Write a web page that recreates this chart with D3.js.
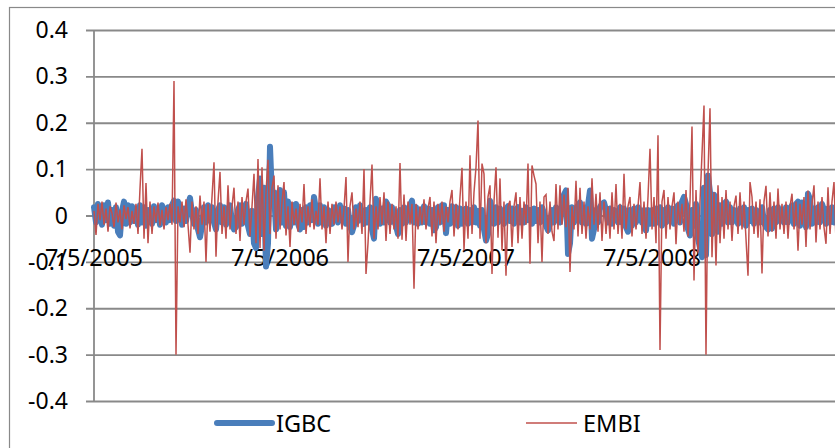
<!DOCTYPE html>
<html lang="en">
  <head>
    <title>IGBC vs EMBI</title>
    <script src="https://d3js.org/d3.v7.min.js"></script>
    <style>
      body { margin: 0; background: #fff; }
      text { font-family: "Noto Sans", "Open Sans", sans-serif; fill: #000; }
    </style>
  </head>
  <body>
    <div id="myChart"></div>
    <script>
// daily returns (one value every ~2 px)
var igbc = [
  0.018,-0.015,0.025,0.005,-0.020,0.022,-0.010,0.028,-0.018,0.012,
  -0.022,0.018,-0.035,-0.043,0.010,0.030,-0.018,0.022,-0.015,0.020,
  -0.012,0.015,-0.020,0.022,-0.015,0.018,-0.022,0.012,0.005,-0.018,
  0.020,-0.010,0.012,-0.020,0.022,0.005,-0.015,0.018,-0.010,0.022,
  0.032,-0.012,0.030,0.010,-0.020,0.015,-0.012,0.022,0.038,0.005,
  -0.018,0.012,-0.030,-0.047,-0.022,0.018,-0.015,0.022,-0.010,0.018,
  -0.015,-0.030,0.012,0.022,-0.015,0.018,-0.020,0.010,0.022,-0.015,
  -0.030,-0.025,0.012,0.022,-0.018,0.015,0.025,-0.022,-0.040,0.010,
  -0.060,-0.070,0.040,0.080,-0.040,0.060,-0.110,-0.060,0.148,0.040,
  0.050,-0.030,0.045,
  0.055,-0.015,0.050,-0.022,0.030,-0.025,0.022,-0.015,0.025,-0.018,
  -0.030,0.012,-0.025,0.018,-0.015,0.022,-0.010,0.040,0.012,-0.018,
  0.022,-0.015,0.018,-0.022,0.012,0.005,-0.018,0.018,0.012,-0.015,
  0.022,-0.010,0.015,-0.018,0.012,-0.022,-0.036,-0.022,0.018,-0.012,
  0.022,0.005,-0.018,0.012,-0.015,0.018,-0.030,-0.050,0.036,0.012,
  -0.018,0.015,-0.015,0.030,0.022,-0.015,0.018,-0.010,-0.022,-0.040,
  0.012,-0.018,0.018,-0.015,0.010,0.022,0.032,-0.015,0.018,-0.018,
  0.012,-0.015,0.020,-0.015,0.015,-0.018,0.012,-0.032,-0.025,0.018,
  -0.015,0.022,0.022,-0.038,0.012,-0.018,0.020,-0.015,0.018,-0.022,
  0.015,-0.018,0.012,
  0.015,-0.018,0.012,-0.015,0.018,-0.015,0.010,-0.022,0.012,-0.030,
  -0.054,-0.040,0.032,0.012,-0.018,0.018,-0.015,0.015,0.005,-0.018,
  0.012,0.020,-0.012,0.015,-0.018,0.012,0.018,-0.015,0.010,-0.015,
  0.018,-0.010,0.012,-0.018,0.015,-0.012,0.012,-0.015,0.018,0.005,
  -0.022,-0.032,-0.018,0.012,-0.015,0.018,0.005,-0.015,0.022,0.045,
  0.054,-0.083,-0.060,0.018,-0.015,0.012,0.022,0.028,-0.015,0.015,
  -0.018,0.022,0.054,-0.050,-0.030,0.012,-0.015,0.018,0.025,0.028,
  0.012,-0.015,0.015,-0.018,0.012,0.005,-0.015,0.018,-0.015,0.015,
  -0.025,-0.035,0.012,-0.022,0.015,-0.015,0.018,0.010,-0.015,0.012,
  -0.032,0.012,-0.018,
  0.012,-0.018,0.015,-0.015,0.018,-0.022,0.012,-0.015,0.018,-0.012,
  0.015,-0.018,0.012,0.022,-0.015,0.030,0.040,0.025,-0.030,-0.043,
  0.012,-0.022,0.025,-0.050,-0.070,-0.090,0.060,-0.085,0.086,0.050,
  -0.040,0.045,0.030,-0.035,0.022,-0.018,0.025,0.030,-0.015,0.018,
  -0.015,0.012,0.005,-0.018,0.015,-0.015,0.018,-0.022,0.012,-0.012,
  0.015,-0.018,0.012,0.005,-0.015,0.018,-0.015,-0.025,-0.030,0.012,
  -0.028,0.015,-0.015,0.018,-0.012,0.012,-0.015,0.018,-0.015,0.015,
  0.022,-0.018,0.025,0.030,-0.022,0.028,0.012,-0.025,0.047,0.035,
  -0.018,0.015,-0.015,0.018,-0.015,0.025,0.012,-0.018,0.015,-0.015,
  0.018,-0.015,0.012
];

var embi = [
  0.010,-0.042,0.025,-0.010,0.030,-0.020,0.015,-0.035,0.020,0.005,
  -0.025,0.028,-0.015,0.012,-0.030,0.022,-0.008,0.018,-0.028,0.010,
  -0.018,0.025,-0.040,0.058,0.144,-0.050,0.070,-0.060,0.030,-0.040,
  0.020,-0.015,0.028,-0.022,0.012,-0.030,0.018,-0.010,0.025,-0.020,
  0.290,-0.300,0.020,-0.015,0.030,-0.025,0.035,-0.020,-0.080,0.030,
  -0.030,0.020,-0.040,0.043,-0.020,0.030,-0.100,0.025,-0.035,0.040,
  0.115,-0.089,0.030,0.094,-0.040,0.020,-0.050,0.065,-0.030,0.020,
  0.060,-0.040,0.030,-0.055,0.040,-0.020,0.030,0.058,-0.045,0.020,
  0.090,-0.060,0.122,-0.070,0.104,-0.076,0.050,0.120,-0.040,0.060,
  0.086,-0.050,0.065,
  -0.030,0.030,0.072,-0.043,0.020,-0.068,0.030,-0.020,0.015,-0.035,
  0.025,-0.015,0.068,-0.040,0.020,-0.025,0.035,-0.030,0.010,-0.020,
  0.080,-0.030,0.020,-0.060,0.030,-0.040,0.025,-0.020,0.030,-0.015,
  0.020,-0.030,0.015,0.083,-0.100,0.020,0.050,-0.030,0.015,-0.025,
  0.030,-0.040,0.100,-0.126,-0.060,0.030,0.110,-0.050,0.020,-0.030,
  0.040,-0.020,0.050,-0.055,0.030,-0.040,0.025,-0.030,0.020,-0.050,
  0.113,-0.052,0.045,-0.055,0.030,-0.020,0.025,-0.158,0.025,-0.030,
  0.020,-0.020,0.035,-0.030,0.015,0.040,-0.045,0.030,-0.060,0.025,
  -0.020,0.030,-0.035,0.020,-0.015,0.030,0.055,-0.045,0.025,-0.030,
  0.040,0.103,-0.075,
  0.030,-0.050,0.130,-0.040,0.050,0.104,0.205,-0.050,0.112,0.090,
  -0.060,0.040,0.065,-0.126,0.030,0.104,-0.048,0.080,-0.075,0.030,
  -0.130,0.020,0.032,-0.068,0.020,0.050,-0.060,0.040,-0.050,0.030,
  -0.020,0.112,-0.104,0.108,0.086,0.068,-0.060,0.030,-0.100,0.040,
  0.045,-0.040,0.030,-0.035,-0.055,0.068,-0.030,0.065,-0.020,0.045,
  -0.025,0.060,-0.122,0.020,-0.030,0.075,-0.045,0.060,-0.040,0.030,
  -0.050,0.020,-0.030,0.080,-0.020,0.047,-0.035,0.050,-0.055,0.030,
  -0.040,0.020,-0.050,0.050,-0.030,0.068,-0.040,0.025,-0.050,0.090,
  -0.030,0.020,0.040,-0.045,0.025,-0.030,0.020,0.072,-0.040,0.030,
  -0.050,0.040,0.144,
  -0.030,0.040,-0.060,0.173,-0.290,0.030,0.055,-0.050,0.040,-0.030,
  0.020,0.050,-0.062,0.030,-0.020,0.025,-0.035,0.055,-0.045,0.030,
  0.192,-0.140,0.055,-0.080,0.030,0.133,0.237,-0.300,0.090,0.231,
  -0.090,0.050,-0.108,0.065,-0.060,0.040,-0.050,0.055,-0.030,0.030,
  -0.055,0.020,0.043,-0.040,0.050,-0.030,0.030,-0.050,-0.130,0.072,
  0.040,-0.040,0.030,-0.048,0.035,-0.125,0.030,0.064,-0.045,0.050,
  -0.035,0.030,-0.050,0.058,-0.030,0.025,-0.040,0.030,-0.050,0.020,
  0.047,-0.030,0.030,-0.076,0.025,-0.020,0.040,-0.068,0.054,-0.030,
  0.025,0.065,-0.058,0.030,-0.030,0.040,-0.025,-0.061,0.061,-0.040,
  0.030,0.072,-0.055
];

var tickIdx = [0, 93, 186, 279];
var tickLabels = ["7/5/2005", "7/5/2006", "7/5/2007", "7/5/2008"];
var yTicks = [-0.4, -0.3, -0.2, -0.1, 0, 0.1, 0.2, 0.3, 0.4];
var seriesNames = ["IGBC", "EMBI"];

window.onload = function() {
  var W = 835, H = 448,
      mLeft = 94, mRight = 836, mTop = 30, mBottom = 401,
      gridColor = "#898989",
      blue = "#4a7ebb", red = "#c0504d";

  var svg = d3.select("#myChart").append("svg")
      .attr("width", W).attr("height", H);

  // chart area border (cut off on the right and bottom)
  svg.append("rect")
      .attr("x", 9.5).attr("y", 7.5)
      .attr("width", W + 10).attr("height", H + 10)
      .attr("fill", "none").attr("stroke", gridColor).attr("stroke-width", 1.2);

  var x = d3.scaleLinear().domain([0, embi.length - 1]).range([mLeft, mRight]),
      y = d3.scaleLinear().domain([-0.4, 0.4]).range([mBottom, mTop]);

  // y gridlines + ticks
  svg.append("g")
      .attr("transform", "translate(" + mLeft + ",0)")
      .call(d3.axisLeft(y).tickValues(yTicks).tickSize(-(W - mLeft)).tickFormat(""))
      .call(function(g) {
        g.select(".domain").remove();
        g.selectAll(".tick line")
          .attr("x1", -8)
          .attr("stroke", gridColor).attr("stroke-width", 1.8);
      });

  svg.selectAll(".ylab")
    .data(yTicks)
    .enter().append("text")
      .attr("class", "ylab")
      .attr("x", 68)
      .attr("y", function(d) { return y(d) + 8; })
      .attr("text-anchor", "end")
      .style("font-size", "23px")
      .text(function(d) { return String(+d.toFixed(1)); });

  // left axis line
  svg.append("line")
      .attr("x1", mLeft).attr("x2", mLeft)
      .attr("y1", y(0.4)).attr("y2", y(-0.4))
      .attr("stroke", gridColor).attr("stroke-width", 1.8);

  // category labels hanging under the zero line
  svg.selectAll(".xlab")
    .data(tickIdx)
    .enter().append("text")
      .attr("class", "xlab")
      .attr("x", function(d) { return x(d); })
      .attr("y", y(0) + 50)
      .attr("text-anchor", "middle")
      .style("font-size", "23.5px")
      .text(function(d, i) { return tickLabels[i]; });

  var line = d3.line()
      .x(function(d, i) { return x(i); })
      .y(function(d) { return y(d); });

  svg.append("path")
      .datum(igbc)
      .attr("d", line)
      .attr("fill", "none")
      .attr("stroke", blue)
      .attr("stroke-width", 6)
      .attr("stroke-linejoin", "round")
      .attr("stroke-linecap", "round");

  svg.append("path")
      .datum(embi)
      .attr("d", line)
      .attr("fill", "none")
      .attr("stroke", red)
      .attr("stroke-width", 1.5);

  // legend
  var legend = [
    {name: seriesNames[0], color: blue, w: 6, x1: 217, x2: 272, tx: 276},
    {name: seriesNames[1], color: red, w: 1.3, x1: 526, x2: 577, tx: 583}
  ];
  var lg = svg.selectAll(".leg").data(legend).enter().append("g").attr("class", "leg");
  lg.append("line")
      .attr("x1", function(d) { return d.x1; })
      .attr("x2", function(d) { return d.x2; })
      .attr("y1", 423).attr("y2", 423)
      .attr("stroke", function(d) { return d.color; })
      .attr("stroke-width", function(d) { return d.w; })
      .attr("stroke-linecap", function(d, i) { return i == 0 ? "round" : "butt"; });
  lg.append("text")
      .attr("x", function(d) { return d.tx; })
      .attr("y", 432)
      .style("font-size", "23.5px")
      .text(function(d) { return d.name; });
};
    </script>
  </body>
</html>
